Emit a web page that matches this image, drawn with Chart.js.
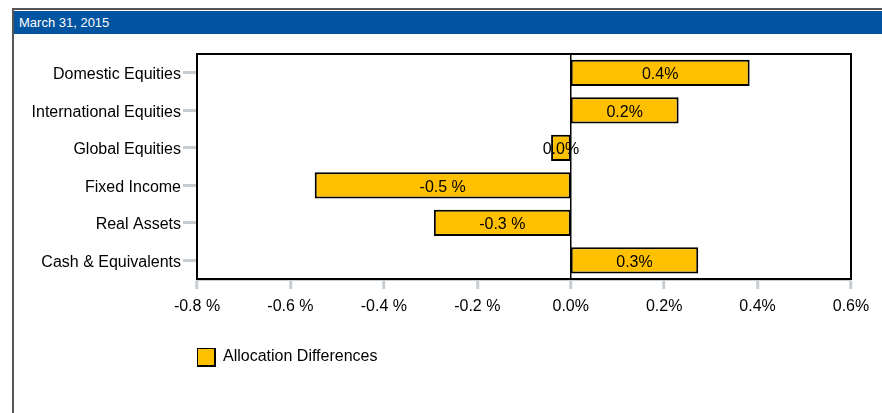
<!DOCTYPE html>
<html>
<head>
<meta charset="utf-8">
<script src="https://cdn.jsdelivr.net/npm/chart.js@4/dist/chart.umd.min.js"></script>
<style>
  html, body { margin: 0; padding: 0; background: #fff; overflow: hidden; }
  body { width: 882px; height: 413px; position: relative; font-family: "Liberation Sans", Arial, sans-serif; }
  .frame { position: absolute; left: 12px; top: 8px; width: 900px; height: 500px;
           border-top: 2px solid #555; border-left: 2px solid #555; }
  .header { position: absolute; left: 14px; top: 11px; width: 900px; height: 23px;
            background: #0054a0; color: #fff; font-size: 13px; line-height: 23px; padding-left: 5px; }
  #chart { position: absolute; left: 0; top: 0; }
</style>
</head>
<body>
<div class="frame"></div>
<div class="header">March 31, 2015</div>
<canvas id="chart" width="882" height="413"></canvas>
<script>
// 资产类别
const categories = ['Domestic Equities', 'International Equities', 'Global Equities', 'Fixed Income', 'Real Assets', 'Cash & Equivalents'];
// 配置差异（%）
const allocationDiffs = [0.383, 0.231, -0.042, -0.548, -0.293, 0.273];
const valueLabels = ['0.4%', '0.2%', '0.0%', '-0.5 %', '-0.3 %', '0.3%'];
// x 轴刻度
const xMin = -0.8, xMax = 0.6, xStep = 0.2;
const xTickLabels = ['-0.8 %', '-0.6 %', '-0.4 %', '-0.2 %', '0.0%', '0.2%', '0.4%', '0.6%'];

const fontFamily = '"Liberation Sans", Arial, sans-serif';

// 画图框和数值标签
const boxPlugin = {
    id: 'plotBox',
    afterDatasetsDraw(chart) {
        const {ctx, chartArea} = chart;
        ctx.save();
        ctx.strokeStyle = '#000';
        ctx.lineWidth = 2;
        ctx.strokeRect(chartArea.left, chartArea.top, chartArea.right - chartArea.left, chartArea.bottom - chartArea.top);

        ctx.font = '16px ' + fontFamily;
        ctx.fillStyle = '#000';
        ctx.textAlign = 'center';
        ctx.textBaseline = 'middle';
        chart.getDatasetMeta(0).data.forEach((bar, i) => {
            ctx.fillText(valueLabels[i], (bar.x + bar.base) / 2, bar.y + 2);
        });
        ctx.restore();
    }
};

const ctx = document.getElementById('chart').getContext('2d');
const chart = new Chart(ctx, {
    type: 'bar',
    data: {
        labels: categories,
        datasets: [{
            label: 'Allocation Differences',
            data: allocationDiffs,
            backgroundColor: '#ffc000',
            borderColor: '#000',
            borderWidth: 2,
            borderSkipped: false,
            categoryPercentage: 1,
            barPercentage: 0.7
        }]
    },
    options: {
        indexAxis: 'y',
        responsive: false,
        animation: false,
        devicePixelRatio: 1,
        layout: {
            padding: { top: 54, right: 31, bottom: 37, left: 0 }
        },
        scales: {
            x: {
                min: xMin,
                max: xMax,
                afterFit(scale) { scale.height = 69; },
                ticks: {
                    stepSize: xStep,
                    maxRotation: 0,
                    padding: 8,
                    color: '#000',
                    font: { size: 16, family: fontFamily },
                    callback: (v, i) => xTickLabels[i]
                },
                grid: {
                    offset: false,
                    color: c => (c.tick && Math.abs(c.tick.value) < 1e-9) ? '#000' : 'rgba(0,0,0,0)',
                    lineWidth: 1.5,
                    tickLength: 10,
                    tickWidth: 3,
                    tickColor: '#c8cdd2'
                },
                border: { display: true, color: '#c8cdd2', width: 3 }
            },
            y: {
                afterFit(scale) { scale.width = 197; },
                ticks: {
                    padding: 2,
                    labelOffset: 2,
                    color: '#000',
                    font: { size: 16, family: fontFamily }
                },
                grid: {
                    offset: false,
                    drawOnChartArea: false,
                    tickLength: 14,
                    tickWidth: 3,
                    tickColor: '#c8cdd2'
                },
                border: { display: false }
            }
        },
        plugins: {
            legend: {
                position: 'bottom',
                align: 'start',
                fullSize: false,
                labels: {
                    boxWidth: 18,
                    boxHeight: 18,
                    padding: 0,
                    color: '#000',
                    font: { size: 16, family: fontFamily }
                }
            },
            tooltip: { enabled: false }
        }
    },
    plugins: [boxPlugin]
});
</script>
</body>
</html>
